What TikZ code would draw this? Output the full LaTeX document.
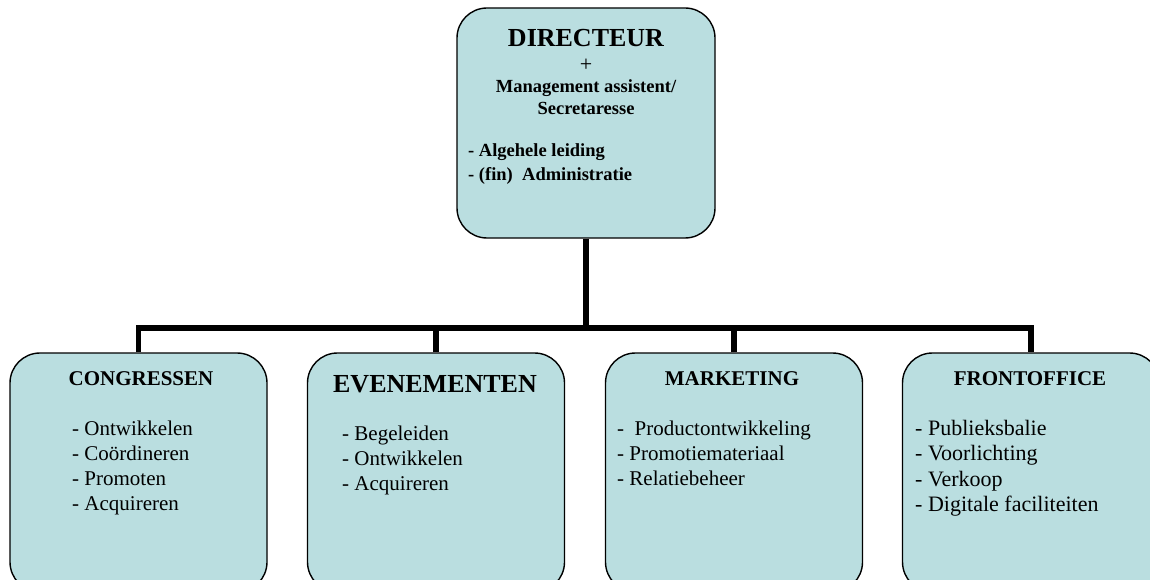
\documentclass[tikz,border=0pt]{standalone}
\usepackage{fontspec}
\setmainfont{Liberation Serif}
\usepackage{tikz}
\usetikzlibrary{positioning,calc}
\definecolor{boxfill}{RGB}{186,222,224}
\tikzset{
  unit/.style  = {draw, line width=1.4pt, fill=boxfill, rounded corners=30pt,
                  minimum width=257pt, minimum height=239pt, inner sep=0pt},
  wire/.style  = {line width=5.5pt},
  head/.style  = {font=\fontsize{21}{25}\selectfont\bfseries, anchor=base, inner sep=0pt},
  bighead/.style = {font=\fontsize{26}{30}\selectfont\bfseries, anchor=base, inner sep=0pt},
  note/.style  = {font=\fontsize{18.5}{22}\selectfont\bfseries, inner sep=0pt},
  item/.style  = {font=\fontsize{21}{25}\selectfont, anchor=base west, inner sep=0pt},
}

\begin{document}
\begin{tikzpicture}[x=1pt,y=-1pt]
  \useasboundingbox (0,0) rectangle (1150,580);
  % boxes
  \node[unit, minimum width=258pt, minimum height=230pt] (dir) at (586,123) {};
  \node[unit] (cong)  at (138.5,472.5) {};
  \node[unit] (even)  at (436,472.5) {};
  \node[unit] (mark)  at (734,472.5) {};
  \node[unit] (front) at (1031,472.5) {};
  % lines
  \coordinate (bus) at (586,328);
  \draw[wire] (dir.south) -- (bus);
  \draw[wire] (cong.north) |- (front.north |- bus) -- (front.north);
  \draw[wire] (even.north) -- (even.north |- bus);
  \draw[wire] (mark.north) -- (mark.north |- bus);
  % director
  \node[bighead] (dirT) at (586,47) {DIRECTEUR};
  \node[note, font=\fontsize{22}{24}\selectfont, anchor=base] (plus) at (586,72) {+};
  \node[note, anchor=base] (mgmt) at (586,93) {Management assistent/};
  \node[note, anchor=base] (secr) at (586,115) {Secretaresse};
  \node[note, anchor=base west] (lead)  at (468,157) {- Algehele leiding};
  \node[note, anchor=base west] (admin) at (468,180) {- (fin)\ \ Administratie};
  % departments
  \node[head] (congT) at (141,385) {CONGRESSEN};
  \foreach \t [count=\i from 0] in {Ontwikkelen, Coördineren, Promoten, Acquireren}
    {\node[item] (cong\i) at (72,435+25*\i) {- \t};}
  \node[bighead] (evenT) at (435,392) {EVENEMENTEN};
  \foreach \t [count=\i from 0] in {Begeleiden, Ontwikkelen, Acquireren}
    {\node[item] (even\i) at (342,440+25*\i) {- \t};}
  \node[head] (markT) at (732,385) {MARKETING};
  \foreach \t [count=\i from 0] in {{\ Productontwikkeling}, Promotiemateriaal, Relatiebeheer}
    {\node[item] (mark\i) at (617,435+25*\i) {- \t};}
  \node[head] (frontT) at (1030,385) {FRONTOFFICE};
  \foreach \t [count=\i from 0] in {Publieksbalie, Voorlichting, Verkoop, Digitale faciliteiten}
    {\node[item, font=\fontsize{22}{25}\selectfont] (front\i) at (915,435+25.5*\i) {- \t};}
\end{tikzpicture}
\end{document}
